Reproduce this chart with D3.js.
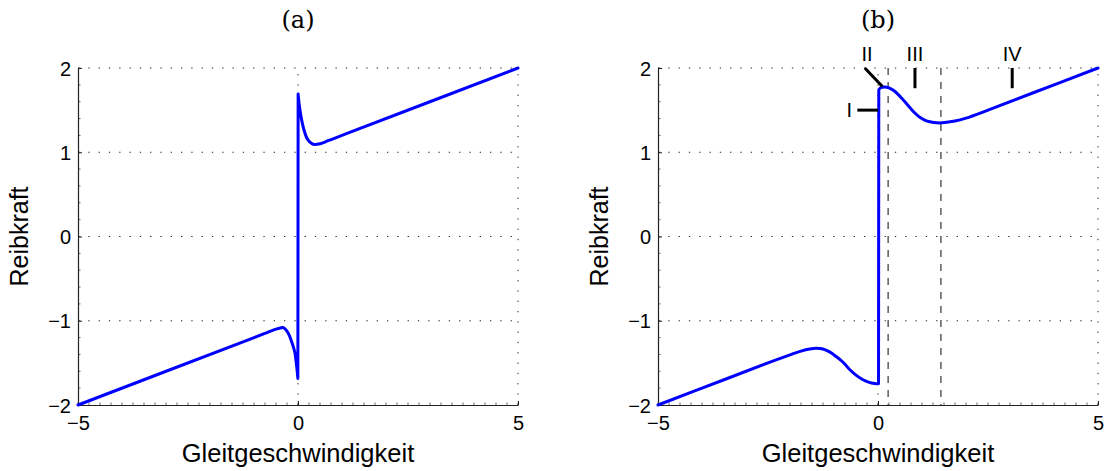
<!DOCTYPE html>
<html><head><meta charset="utf-8">
<script src="https://cdn.jsdelivr.net/npm/d3@7"></script>
<style>body{margin:0;background:#fff}svg{display:block}</style>
</head><body>
<svg id="c" width="1108" height="471"></svg>
<script>
// ---- data ----
const xTicks = [-5, 0, 5];
const yTicks = [-2, -1, 0, 1, 2];
const panelTitles = ["(a)", "(b)"];
const xLabel = "Gleitgeschwindigkeit";
const yLabel = "Reibkraft";

// panel (a) curve
const vA = [-5, -1.1, -0.7, -0.5, -0.4, -0.34, -0.27, -0.2, -0.15, -0.1, -0.07, -0.04, -0.02, -0.003,
             0.003, 0.02, 0.04, 0.07, 0.1, 0.15, 0.2, 0.27, 0.36, 0.5, 0.7, 1.1, 5];
const fA = [-2, -1.22, -1.14, -1.1, -1.085, -1.08, -1.11, -1.17, -1.24, -1.32, -1.38, -1.5, -1.59, -1.685,
             1.69, 1.6, 1.52, 1.42, 1.34, 1.24, 1.17, 1.12, 1.092, 1.1, 1.14, 1.22, 2];

// panel (b) curve
const vB = [-5, -3.5, -2.5, -2.0, -1.75, -1.55, -1.4, -1.25, -1.1, -0.95, -0.8, -0.65, -0.5, -0.35, -0.2, -0.08, 0.012,
             0.018, 0.06, 0.15, 0.25, 0.35, 0.45, 0.55, 0.65, 0.75, 0.85, 0.95, 1.05, 1.15, 1.27, 1.4, 1.55, 1.75, 2.0, 2.5, 3.5, 5];
const fB = [-2, -1.7, -1.5, -1.405, -1.36, -1.335, -1.327, -1.335, -1.37, -1.425, -1.49, -1.575, -1.645, -1.698, -1.732, -1.745, -1.748,
             1.74, 1.765, 1.775, 1.765, 1.735, 1.69, 1.635, 1.575, 1.515, 1.46, 1.415, 1.385, 1.365, 1.353, 1.348, 1.355, 1.37, 1.405, 1.5, 1.7, 2];

// panel (b) dashed markers
const dashedV = [0.23, 1.43];
// panel (b) region annotations: label, text anchor (v,F), marker line from (v1,F1) to (v2,F2)
const annLabels = ["I", "II", "III", "IV"];
const annText = [[-0.65, 1.5], [-0.25, 2.17], [0.84, 2.17], [3.05, 2.17]];
const annLine = [[[-0.47, 1.5], [0.0, 1.5]], [[-0.3, 2.0], [0.1, 1.78]], [[0.84, 2.0], [0.84, 1.76]], [[3.05, 2.0], [3.05, 1.76]]];

// ---- drawing ----
const svg = d3.select("#c");
const font = "'Liberation Sans', Arial, sans-serif";
const panels = [
  {x0: 78, x1: 518, v: vA, f: fA, title: panelTitles[0]},
  {x0: 658, x1: 1098, v: vB, f: fB, title: panelTitles[1]}
];
const yTop = 68, yBot = 405;

panels.forEach((p, i) => {
  const x = d3.scaleLinear().domain([-5, 5]).range([p.x0, p.x1]);
  const y = d3.scaleLinear().domain([-2, 2]).range([yBot, yTop]);
  const g = svg.append("g");

  // grid (dotted)
  g.selectAll(".gx").data(xTicks.filter(t => t !== -5)).enter().append("line")
    .attr("x1", d => x(d)).attr("x2", d => x(d)).attr("y1", yBot).attr("y2", yTop)
    .attr("stroke", "#222").attr("stroke-width", 1).attr("stroke-dasharray", "1.3,9");
  g.selectAll(".gy").data(yTicks.filter(t => t !== -2)).enter().append("line")
    .attr("x1", p.x0).attr("x2", p.x1).attr("y1", d => y(d)).attr("y2", d => y(d))
    .attr("stroke", "#222").attr("stroke-width", 1).attr("stroke-dasharray", "1.3,9");

  // minor ticks
  const xMinor = d3.range(-5, 5.001, 0.25);
  const yMinor = d3.range(-2, 2.001, 0.2);
  g.selectAll(".mx").data(xMinor).enter().append("line")
    .attr("x1", d => x(d)).attr("x2", d => x(d)).attr("y1", yBot).attr("y2", yBot - 2.5)
    .attr("stroke", "#444").attr("stroke-width", 0.8);
  g.selectAll(".my").data(yMinor).enter().append("line")
    .attr("x1", p.x0).attr("x2", p.x0 + 2.5).attr("y1", d => y(d)).attr("y2", d => y(d))
    .attr("stroke", "#444").attr("stroke-width", 0.8);

  // axes
  const fmt = d => d3.format("")(d).replace("-", "\u2212");
  const ax = g.append("g").attr("transform", `translate(0,${yBot})`)
    .call(d3.axisBottom(x).tickValues(xTicks).tickSizeInner(-4).tickSizeOuter(0).tickFormat(fmt));
  const ay = g.append("g").attr("transform", `translate(${p.x0},0)`)
    .call(d3.axisLeft(y).tickValues(yTicks).tickSizeInner(-4).tickSizeOuter(0).tickFormat(fmt));
  [ax, ay].forEach(a => {
    a.select(".domain").attr("stroke", "#222").attr("stroke-width", 1.2);
    a.selectAll(".tick line").attr("stroke", "#222");
    a.selectAll("text").attr("font-family", font).attr("font-size", 20).attr("fill", "#000");
  });
  ax.selectAll("text").attr("dy", "0.95em").attr("y", 6);
  ay.selectAll("text").attr("x", -7).attr("dy", "0.36em");

  // dashed markers
  if (i === 1) {
    g.selectAll(".dv").data(dashedV).enter().append("line")
      .attr("x1", d => x(d)).attr("x2", d => x(d)).attr("y1", yTop).attr("y2", yBot)
      .attr("stroke", "#333").attr("stroke-width", 1.2).attr("stroke-dasharray", "7,7");
  }

  // curve: two smooth branches joined by the vertical jump at v = 0
  const pts = p.v.map((v, k) => [v, p.f[k]]);
  let j = pts.findIndex((d, k) => k > 0 && pts[k - 1][1] < 0 && d[1] > 0);
  const left = pts.slice(0, j), right = pts.slice(j);
  const ln = d3.line().x(d => x(d[0])).y(d => y(d[1])).curve(d3.curveCatmullRom.alpha(0.5));
  g.append("path")
    .attr("d", ln(left) + ln(right).replace(/^M/, "L"))
    .attr("fill", "none").attr("stroke", "#0000ff").attr("stroke-width", 3)
    .attr("stroke-linejoin", "round").attr("stroke-linecap", "round");

  // annotations
  if (i === 1) {
    annLabels.forEach((lab, k) => {
      const l = annLine[k];
      g.append("line").attr("x1", x(l[0][0])).attr("y1", y(l[0][1]))
        .attr("x2", x(l[1][0])).attr("y2", y(l[1][1]))
        .attr("stroke", "#000").attr("stroke-width", 3);
      g.append("text").attr("x", x(annText[k][0])).attr("y", y(annText[k][1]))
        .attr("text-anchor", "middle").attr("dominant-baseline", "central")
        .attr("font-family", font).attr("font-size", 20).text(lab);
    });
  }

  // titles & labels
  svg.append("text").attr("x", (p.x0 + p.x1) / 2).attr("y", 28)
    .attr("text-anchor", "middle").attr("font-family", "'DejaVu Serif', 'Liberation Serif', serif")
    .attr("font-size", 24).text(p.title);
  svg.append("text").attr("x", (p.x0 + p.x1) / 2).attr("y", 462)
    .attr("text-anchor", "middle").attr("font-family", font).attr("font-size", 25.5).text(xLabel);
  svg.append("text").attr("transform", `translate(${p.x0 - 50},${(yTop + yBot) / 2}) rotate(-90)`)
    .attr("text-anchor", "middle").attr("font-family", font).attr("font-size", 25).text(yLabel);
});
</script>
</body></html>
